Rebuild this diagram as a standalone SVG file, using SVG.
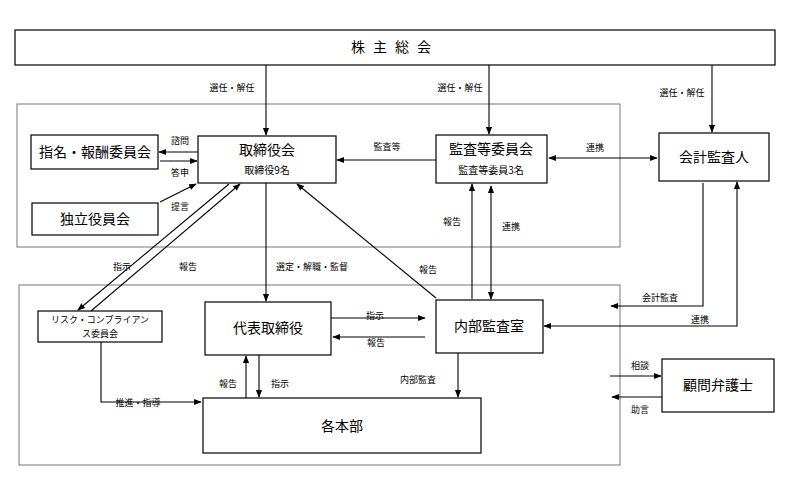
<svg xmlns="http://www.w3.org/2000/svg" width="797" height="489" viewBox="0 0 797 489">
<style>
.b{fill:#fff;stroke:#000;stroke-width:1.2}
.f{fill:none;stroke:#777;stroke-width:1}
text{font-family:"Noto Sans CJK JP","Noto Sans",sans-serif;fill:#000;text-anchor:middle}
.t{font-size:14px}.s{font-size:10px}.l{font-size:9px}
.c line,.c polyline{stroke:#000;stroke-width:1.1;fill:none}
</style>
<defs><marker id="a" viewBox="0 0 10 10" refX="9" refY="5" markerWidth="7" markerHeight="7" orient="auto-start-reverse"><path d="M0,1L10,5L0,9z" fill="#000"/></marker></defs>
<rect x="0" y="0" width="797" height="489" fill="#fff"/>
<rect class="f" x="17" y="104" width="603" height="143"/>
<rect class="f" x="19" y="285" width="601" height="180"/>
<g id="shareholders"><rect class="b" x="15" y="30" width="760" height="35"/><text class="t" x="395" y="52" letter-spacing="8">株主総会</text></g>
<g id="nomination"><rect class="b" x="31" y="135" width="127" height="34"/><text class="t" x="95" y="157">指名・報酬委員会</text></g>
<g id="independent"><rect class="b" x="32" y="203" width="126" height="32"/><text class="t" x="95" y="224">独立役員会</text></g>
<g id="board"><rect class="b" x="198" y="136" width="138" height="47"/><text class="t" x="267" y="155">取締役会</text><text class="s" x="267" y="174">取締役9名</text></g>
<g id="audit_committee"><rect class="b" x="436" y="135" width="111" height="48"/><text class="t" x="491" y="154">監査等委員会</text><text class="s" x="491" y="174">監査等委員3名</text></g>
<g id="auditor"><rect class="b" x="659" y="133" width="110" height="48"/><text class="t" x="714" y="162">会計監査人</text></g>
<g id="risk"><rect class="b" x="38" y="311" width="124" height="31"/><text class="l" x="100" y="323">リスク・コンプライアン</text><text class="l" x="100" y="337">ス委員会</text></g>
<g id="ceo"><rect class="b" x="205" y="302" width="126" height="53"/><text class="t" x="268" y="333">代表取締役</text></g>
<g id="internal"><rect class="b" x="436" y="300" width="107" height="53"/><text class="t" x="489" y="331">内部監査室</text></g>
<g id="divisions"><rect class="b" x="203" y="398" width="278" height="55"/><text class="t" x="342" y="431">各本部</text></g>
<g id="lawyer"><rect class="b" x="662" y="359" width="112" height="53"/><text class="t" x="718" y="390">顧問弁護士</text></g>
<g class="c" marker-end="url(#a)">
<line x1="266" y1="65" x2="266" y2="135"/>
<line x1="489" y1="65" x2="489" y2="134"/>
<line x1="712" y1="65" x2="712" y2="132"/>
<line x1="436" y1="160" x2="337" y2="160"/>
<line x1="549" y1="158" x2="657" y2="158" marker-start="url(#a)"/>
<line x1="198" y1="152" x2="159" y2="152"/>
<line x1="160" y1="161" x2="197" y2="161"/>
<line x1="160" y1="202" x2="196" y2="184"/>
<line x1="266" y1="183" x2="266" y2="301"/>
<line x1="229" y1="184" x2="78" y2="310"/>
<line x1="91" y1="311" x2="240" y2="184"/>
<line x1="436" y1="298" x2="297" y2="184"/>
<line x1="472" y1="299" x2="472" y2="184"/>
<line x1="491" y1="186" x2="491" y2="299" marker-start="url(#a)"/>
<line x1="331" y1="318" x2="425" y2="318"/>
<line x1="425" y1="337" x2="333" y2="337"/>
<polyline points="703,183 703,306 611,306"/>
<polyline points="544,326 737,326 737,182" marker-start="url(#a)"/>
<line x1="610" y1="376" x2="661" y2="376"/>
<line x1="662" y1="397" x2="612" y2="397"/>
<line x1="246" y1="398" x2="246" y2="356"/>
<line x1="259" y1="355" x2="259" y2="397"/>
<line x1="458" y1="353" x2="458" y2="397"/>
<polyline points="101,342 101,402 201,402"/>
</g>
<g class="l">
<text class="l" x="232" y="91">選任・解任</text>
<text class="l" x="460" y="91">選任・解任</text>
<text class="l" x="682" y="96">選任・解任</text>
<text class="l" x="387" y="150">監査等</text>
<text class="l" x="595" y="151">連携</text>
<text class="l" x="180" y="144">諮問</text>
<text class="l" x="180" y="176">答申</text>
<text class="l" x="180" y="210">提言</text>
<text class="l" x="122" y="270">指示</text>
<text class="l" x="188" y="270">報告</text>
<text class="l" x="312" y="270">選定・解職・監督</text>
<text class="l" x="428" y="273">報告</text>
<text class="l" x="452" y="225">報告</text>
<text class="l" x="511" y="230">連携</text>
<text class="l" x="375" y="319">指示</text>
<text class="l" x="376" y="346">報告</text>
<text class="l" x="660" y="301">会計監査</text>
<text class="l" x="700" y="323">連携</text>
<text class="l" x="640" y="369">相談</text>
<text class="l" x="640" y="413">助言</text>
<text class="l" x="228" y="387">報告</text>
<text class="l" x="280" y="387">指示</text>
<text class="l" x="418" y="383">内部監査</text>
<text class="l" x="138" y="406">推進・指導</text>
</g>
</svg>
